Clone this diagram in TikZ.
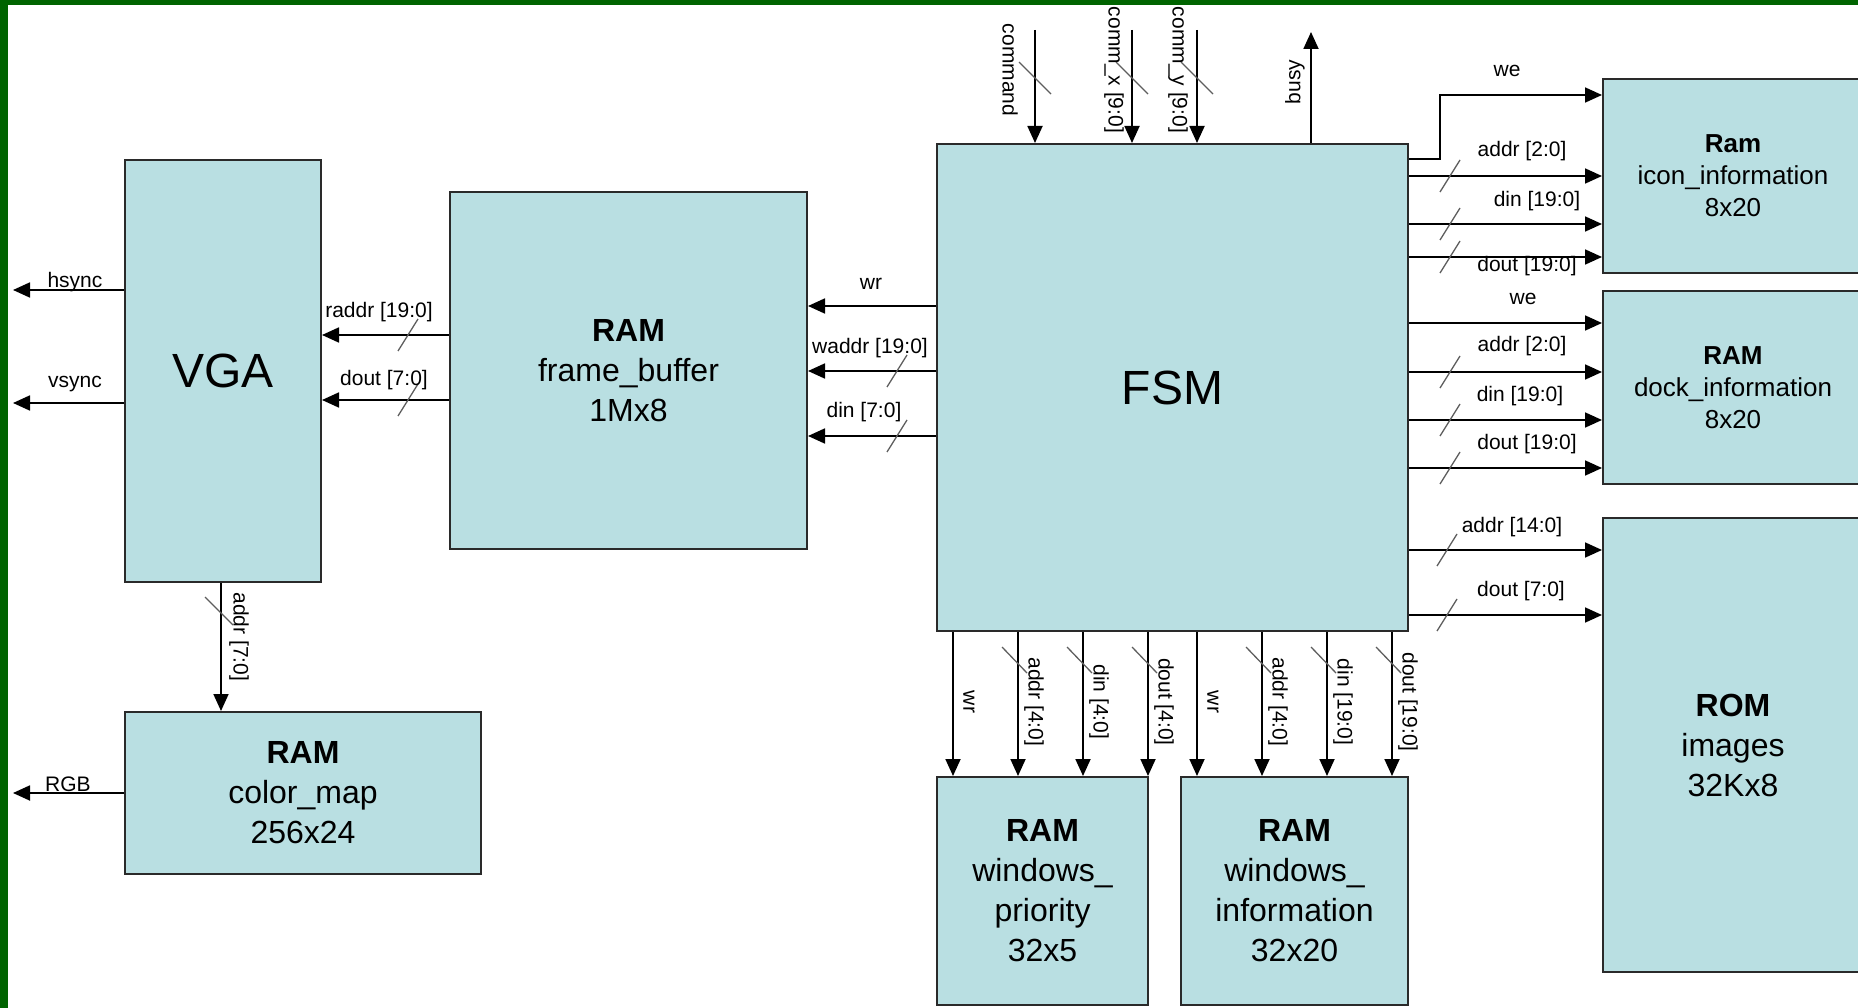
\documentclass[tikz,border=0pt]{standalone}
\usepackage{fontspec}
\setmainfont{Liberation Sans}
\usepackage{xcolor}
\usepackage{tikz}
\usetikzlibrary{arrows.meta,positioning}
\definecolor{hwvert}{HTML}{006400}
\definecolor{hwbleu}{HTML}{B9DFE2}
\definecolor{hwdark}{HTML}{2A2A2A}
\definecolor{hwgris}{HTML}{5E5E5E}

\begin{document}
\begin{tikzpicture}[x=1pt,y=-1pt,
  blk/.style={draw=hwdark,line width=2pt,fill=hwbleu,align=center,inner sep=0pt,font=\fontsize{32}{40}\selectfont},
  petit/.style={blk,font=\fontsize{26}{32}\selectfont},
  gros/.style={blk,font=\fontsize{48}{56}\selectfont},
  sig/.style={line width=1.8pt,-{Triangle[length=17pt,width=15pt]}},
  lbl/.style={font=\fontsize{21}{24}\selectfont,inner sep=0pt,anchor=base},
  vlbl/.style={font=\fontsize{21}{24}\selectfont,inner sep=0pt,rotate=-90},
  bus/.style={hwgris,line width=1.3pt}]
  \path[use as bounding box] (0,0) rectangle (1858,1008);
  \clip (0,0) rectangle (1858,1008);
  % cadre
  \fill[hwvert] (0,0) rectangle (8,1008);
  \fill[hwvert] (0,0) rectangle (1858,5);
  % blocs
  \node[gros,minimum width=196pt,minimum height=422pt] (vga) at (223,371) {VGA};
  \node[blk,minimum width=357pt,minimum height=357pt] (fb) at (628.5,370.5) {\textbf{RAM}\\frame\_buffer\\1Mx8};
  \node[blk,minimum width=356pt,minimum height=162pt] (cmap) at (303,793) {\textbf{RAM}\\color\_map\\256x24};
  \node[gros,minimum width=471pt,minimum height=487pt] (fsm) at (1172.5,387.5) {FSM};
  \node[petit,minimum width=260pt,minimum height=194pt] (icon) at (1733,176) {\textbf{Ram}\\icon\_information\\8x20};
  \node[petit,minimum width=260pt,minimum height=193pt] (dock) at (1733,387.5) {\textbf{RAM}\\dock\_information\\8x20};
  \node[blk,minimum width=260pt,minimum height=454pt] (rom) at (1733,745) {\textbf{ROM}\\images\\32Kx8};
  \node[blk,minimum width=211pt,minimum height=228pt] (wprio) at (1042.5,891) {\textbf{RAM}\\windows\_\\priority\\32x5};
  \node[blk,minimum width=227pt,minimum height=228pt] (winfo) at (1294.5,891) {\textbf{RAM}\\windows\_\\information\\32x20};
  % sorties vga / color_map
  \coordinate (hs) at (13,290);
  \coordinate (vs) at (13,403);
  \coordinate (rgb) at (13,793);
  \draw[sig] (vga.west |- hs) -- (hs);
  \draw[sig] (vga.west |- vs) -- (vs);
  \draw[sig] (cmap.west |- rgb) -- (rgb);
  \node[lbl] (lhs) at (75,288) {hsync};
  \node[lbl] (lvs) at (75,387) {vsync};
  \node[lbl] (lrgb) at (68,791) {RGB};
  % frame_buffer -> vga
  \foreach \y/\yb/\xl/\txt [count=\i] in {335/318/379/raddr [19:0], 400/385/384/dout [7:0]} {
    \draw[sig] (fb.west |- 0,\y) -- (vga.east |- 0,\y);
    \draw[bus] (398,\y+16) -- (418,\y-16);
    \node[lbl] (lr\i) at (\xl,\yb) {\txt};
  }
  % vga -> color_map
  \draw[sig] (vga.south -| 221,0) -- (cmap.north -| 221,0);
  \draw[bus] (205,597) -- (233,625);
  \node[vlbl] (la) at (239,637) {addr [7:0]};
  % fsm -> frame_buffer
  \foreach \y/\yb/\xl/\txt [count=\i] in {306/290/871/wr, 371/353/870/waddr [19:0], 436/417/864/din [7:0]} {
    \draw[sig] (fsm.west |- 0,\y) -- (fb.east |- 0,\y);
    \node[lbl] (lw\i) at (\xl,\yb) {\txt};
  }
  \foreach \y in {371,436} \draw[bus] (887,\y+16) -- (907,\y-16);
  % entrees fsm
  \foreach \x/\xl/\txt [count=\i] in {1035/1010/command, 1132/1114/comm\_x [9:0], 1197/1178/comm\_y [9:0]} {
    \coordinate (c\i) at (\x,30);
    \draw[sig] (c\i) -- (fsm.north -| c\i);
    \draw[bus] (\x-16,62) -- (\x+16,94);
    \node[vlbl] (lc\i) at (\xl,70) {\txt};
  }
  \coordinate (by) at (1311,32);
  \draw[sig] (fsm.north -| by) -- (by);
  \node[lbl,anchor=center,rotate=90] (lby) at (1295,82) {busy};
  % icon_information
  \coordinate (we1) at (1440,95);
  \draw[sig] (fsm.east |- 0,159) -| (we1) -- (icon.west |- we1);
  \node[lbl] (lwe1) at (1507,77) {we};
  \foreach \y/\yb/\xl/\txt [count=\i] in {176/157/1522/addr [2:0], 224/207/1537/din [19:0], 257/272/1527/dout [19:0]} {
    \draw[sig] (fsm.east |- 0,\y) -- (icon.west |- 0,\y);
    \draw[bus] (1440,\y+16) -- (1460,\y-16);
    \node[lbl] (li\i) at (\xl,\yb) {\txt};
  }
  % dock_information
  \draw[sig] (fsm.east |- 0,323) -- (dock.west |- 0,323);
  \node[lbl] (lwe2) at (1523,305) {we};
  \foreach \y/\yb/\xl/\txt [count=\i] in {372/351/1522/addr [2:0], 420/401/1520/din [19:0], 468/449/1527/dout [19:0]} {
    \draw[sig] (fsm.east |- 0,\y) -- (dock.west |- 0,\y);
    \draw[bus] (1440,\y+16) -- (1460,\y-16);
    \node[lbl] (ld\i) at (\xl,\yb) {\txt};
  }
  % rom images
  \foreach \y/\yb/\xl/\txt [count=\i] in {550/532/1512/addr [14:0], 615/596/1521/dout [7:0]} {
    \draw[sig] (fsm.east |- 0,\y) -- (rom.west |- 0,\y);
    \draw[bus] (1437,\y+16) -- (1457,\y-16);
    \node[lbl] (lo\i) at (\xl,\yb) {\txt};
  }
  % windows_priority / windows_information
  \foreach \x/\txt [count=\i] in {953/wr, 1018/addr [4:0], 1083/din [4:0], 1148/dout [4:0]} {
    \draw[sig] (fsm.south -| \x,0) -- (wprio.north -| \x,0);
    \node[vlbl] (lp\i) at (\x+16,702) {\txt};
  }
  \foreach \x/\txt [count=\i] in {1197/wr, 1262/addr [4:0], 1327/din [19:0], 1392/dout [19:0]} {
    \draw[sig] (fsm.south -| \x,0) -- (winfo.north -| \x,0);
    \node[vlbl] (ln\i) at (\x+16,702) {\txt};
  }
  \foreach \x in {1018,1083,1148,1262,1327,1392} \draw[bus] (\x-16,647) -- (\x+9,673);
\end{tikzpicture}
\end{document}
